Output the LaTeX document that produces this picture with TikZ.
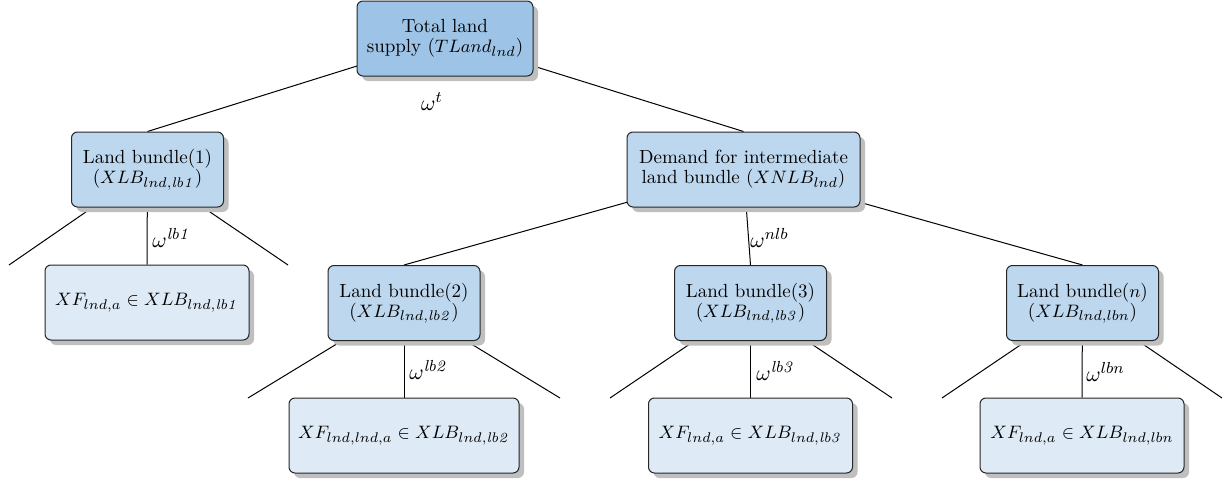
\documentclass[tikz,border=0pt]{standalone}
\usetikzlibrary{shadows,backgrounds}
\DeclareMathSizes{9.5}{9.5}{7.1}{5.7}
\DeclareMathSizes{10.5}{10.5}{7.9}{6.3}
\definecolor{topfill}{HTML}{9DC3E6}
\definecolor{midfill}{HTML}{BDD7EE}
\definecolor{leaffill}{HTML}{DEEBF7}
\definecolor{shadowgray}{HTML}{BFBFBF}
\tikzset{
  basebox/.style={draw=black!85, line width=0.5pt, rounded corners=3pt, align=center,
    minimum height=37.5pt, inner xsep=4pt, inner ysep=2pt,
    font=\fontsize{9.5}{10}\selectfont,
    drop shadow={shadow xshift=2.5pt, shadow yshift=-2.5pt, fill=shadowgray, opacity=1}},
  topbox/.style={basebox, fill=topfill},
  midbox/.style={basebox, fill=midfill},
  leafbox/.style={basebox, fill=leaffill},
  link/.style={draw=black, line width=0.5pt},
  wlabel/.style={font=\fontsize{10.5}{12}\selectfont, inner sep=0pt}
}
\begin{document}
\begin{tikzpicture}[x=0.5pt, y=-0.5pt]
\useasboundingbox (0,0) rectangle (1228,482);

\node[topbox, minimum width=88pt] (top) at (445,38.5) {Total land\\supply ($TLand_{lnd}$)};
\node[midbox, minimum width=76pt] (lb1) at (147.5,169.5) {Land bundle(1)\\($XLB_{lnd,\mathit{lb1}}$)};
\node[midbox, minimum width=116.5pt] (dem) at (743.5,169.5) {Demand for intermediate\\land bundle ($XNLB_{lnd}$)};
\node[leafbox, minimum width=102pt] (xf1) at (147,302.5) {$XF_{lnd,a} \in XLB_{lnd,\mathit{lb1}}$};
\node[midbox, minimum width=76pt] (lb2) at (404,303) {Land bundle(2)\\($XLB_{lnd,\mathit{lb2}}$)};
\node[midbox, minimum width=76pt] (lb3) at (750.5,303) {Land bundle(3)\\($XLB_{lnd,\mathit{lb3}}$)};
\node[midbox, minimum width=76pt] (lbn) at (1082.5,303) {Land bundle($n$)\\($XLB_{lnd,lbn}$)};
\node[leafbox, minimum width=115pt] (xf2) at (404,435.5) {$XF_{lnd,lnd,a} \in XLB_{lnd,\mathit{lb2}}$};
\node[leafbox, minimum width=102pt] (xf3) at (750.5,435.5) {$XF_{lnd,a} \in XLB_{lnd,\mathit{lb3}}$};
\node[leafbox, minimum width=102pt] (xfn) at (1082,435.5) {$XF_{lnd,a} \in XLB_{lnd,lbn}$};

\coordinate (lb1l) at (9,265);
\coordinate (lb1r) at (288,265);
\coordinate (lb2l) at (248,398);
\coordinate (lb2r) at (560,398);
\coordinate (lb3l) at (610,398);
\coordinate (lb3r) at (892,398);
\coordinate (lbnl) at (942,398);
\coordinate (lbnr) at (1222,398);

\begin{pgfonlayer}{background}
\draw[link] (top.center) -- (lb1.north);
\draw[link] (top.center) -- (dem.north);
\draw[link] (lb1.center) -- (lb1l);
\draw[link] (lb1.center) -- (lb1r);
\draw[link] (lb1.center) -- (xf1.north);
\draw[link] (dem.center) -- (lb2.north);
\draw[link] (dem.center) -- (lb3.north);
\draw[link] (dem.center) -- (lbn.north);
\draw[link] (lb2.center) -- (lb2l);
\draw[link] (lb2.center) -- (lb2r);
\draw[link] (lb2.center) -- (xf2.north);
\draw[link] (lb3.center) -- (lb3l);
\draw[link] (lb3.center) -- (lb3r);
\draw[link] (lb3.center) -- (xf3.north);
\draw[link] (lbn.center) -- (lbnl);
\draw[link] (lbn.center) -- (lbnr);
\draw[link] (lbn.center) -- (xfn.north);
\end{pgfonlayer}

\node[wlabel] (wt) at (432,102) {$\omega^{t}$};
\node[wlabel, anchor=west] (w1) at (152,238) {$\omega^{\mathit{lb1}}$};
\node[wlabel, anchor=west] (wn) at (750,238) {$\omega^{nlb}$};
\node[wlabel, anchor=west] (w2) at (409,370) {$\omega^{\mathit{lb2}}$};
\node[wlabel, anchor=west] (w3) at (756,371) {$\omega^{\mathit{lb3}}$};
\node[wlabel, anchor=west] (wnn) at (1086,372) {$\omega^{lbn}$};
\end{tikzpicture}
\end{document}
